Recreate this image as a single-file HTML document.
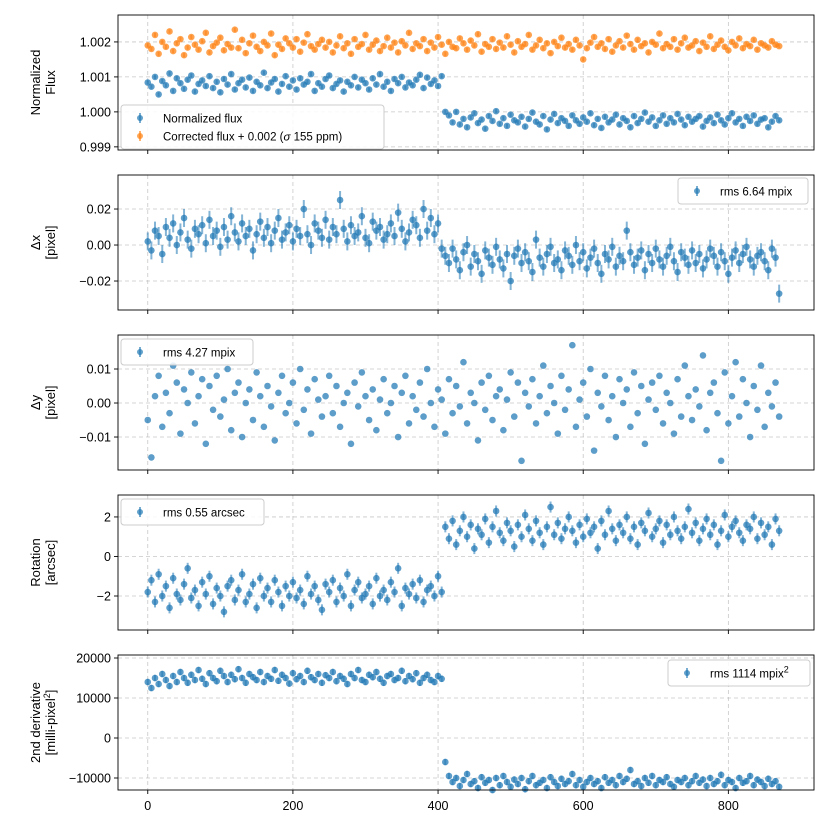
<!DOCTYPE html>
<html><head><meta charset="utf-8">
<style>
html,body{margin:0;padding:0;background:#fff;}
svg{display:block;font-family:"Liberation Sans","DejaVu Sans",sans-serif;}
</style></head>
<body>
<svg id="chart" width="830" height="830" viewBox="0 0 830 830"></svg>
<script>
const frameStep = 5;
const fluxNorm = [840,720,1000,500,880,760,1100,600,960,820,660,920,1040,580,800,900,740,1020,680,860,
560,940,780,1080,640,820,920,700,980,600,860,760,1120,680,840,940,580,800,1020,720,
900,640,960,780,860,1080,600,820,720,940,1040,680,800,900,580,860,760,1000,700,920,
820,640,960,780,1080,720,860,600,940,820,1000,700,840,760,920,1060,680,980,800,900,
740,1020,
0,-100,-300,0,-360,-200,-440,-160,-40,-320,-220,-480,-120,-260,20,-340,-180,-400,-80,-240,
-300,-140,-420,-200,-20,-280,-360,-120,-500,-220,-60,-320,-180,-260,-400,-100,-240,-340,-160,-280,
-40,-380,-200,-460,-140,-300,-220,-80,-360,-180,-260,-440,-120,-320,-200,-20,-280,-160,-400,-240,
-100,-340,-180,-300,-60,-220,-380,-140,-280,-200,-120,-420,-260,-160,-320,-80,-240,-360,-180,-40,
-300,-200,-400,-140,-260,-100,-340,-220,-180,-440,-280,-120,-240];
const fluxCorr = [1900,1800,2200,1660,2000,1860,2300,1740,1960,2080,1620,1840,2140,1920,1780,2020,2260,1700,1880,1980,2120,1760,1940,1840,2350,
1820,2060,1680,1960,2180,1860,1740,2000,1900,2240,1620,1920,1800,2100,1960,1840,2080,1720,1980,2220,1880,1780,1940,2060,1840,
2000,1700,1900,2160,1820,1960,1660,2080,1860,1940,2200,1780,1920,2040,1740,1880,2120,1840,1980,1700,2020,1900,2260,1800,1960,
1880,2080,1740,1980,1840,2140,1920,1660,2000,1860,1820,2100,1960,1780,2040,1900,2220,1720,1940,1860,2080,1800,1980,1840,2160,
1920,1700,2020,1860,1940,2200,1780,1900,2060,1820,1960,1680,2000,1880,2120,1840,1940,1780,2060,1900,1500,1820,1980,2140,1860,
1960,1800,2080,1720,1900,2020,1840,2180,1940,1780,2060,1880,1960,1700,2000,1920,2240,1820,1940,1860,2080,1780,1960,2120,1840,
1900,2020,1740,1980,1860,2160,1800,1920,2040,1860,1760,2000,1900,2100,1820,1940,1880,2060,1780,1960,1900,1840,2020,1920,1880];
const dxVals = [2,-3,8,5,-5,10,4,12,0,7,15,3,-2,9,6,11,1,14,5,8,
-1,10,3,16,7,2,12,5,9,-3,6,13,4,10,1,8,15,3,7,11,
2,9,5,20,6,0,12,8,4,14,3,10,6,25,9,2,11,5,7,16,
4,1,13,8,10,3,6,12,5,18,9,2,7,14,11,4,20,8,15,6,
12,-2,
-6,-10,-2,-8,-14,-4,0,-12,-5,-9,-16,-3,-7,-11,-1,-8,-13,-5,-20,-6,
-2,-10,-4,-9,-15,3,-7,-12,-5,-1,-10,-8,-14,-3,-6,-11,0,-9,-4,-13,
-7,-2,-10,-16,-5,-8,-1,-12,-6,-9,8,-4,-11,-7,-3,-14,-5,-10,-2,-8,
-12,-6,-1,-9,-15,-4,-7,-11,-3,-10,-5,-13,-8,-2,-6,-12,-4,-9,-16,-7,
-3,-10,-5,-1,-8,-12,-6,-4,-9,-14,-2,-7,-27];
const dyVals = [-5,-16,2,8,-7,3,-3,11,6,-9,4,0,9,-6,2,7,-12,5,-2,8,-4,1,10,-8,3,
6,-10,0,4,-5,9,2,-7,5,-1,-11,3,8,-3,0,6,-6,10,-2,4,-9,7,1,-4,2,
8,-3,5,-7,0,3,-12,6,-1,9,2,-5,4,-8,1,7,-3,0,5,-10,3,8,-6,2,-2,
6,-4,10,0,-7,4,1,-9,7,-3,5,-1,12,-6,3,0,-11,6,-2,8,-5,2,4,-8,1,
9,-4,6,-17,3,-1,7,-6,2,11,-3,5,0,-9,8,-2,4,17,-7,1,6,-4,10,-14,3,
-1,8,-5,2,-10,7,0,4,-7,9,-3,5,-12,1,6,-2,8,-6,3,0,-9,7,-4,11,2,
-5,4,-1,14,-8,3,6,-3,-17,9,-6,2,12,-4,7,0,-10,5,-2,11,-7,3,-1,6,-4];
const rotVals = [-180,-120,-230,-90,-200,-150,-260,-110,-190,-220,-140,-60,-210,-170,-250,-130,-190,-100,-240,-160,
-200,-280,-150,-120,-220,-170,-90,-230,-190,-140,-260,-110,-200,-160,-230,-120,-180,-250,-150,-200,
-130,-210,-170,-240,-100,-190,-150,-220,-270,-140,-180,-120,-230,-160,-200,-90,-250,-170,-130,-210,
-190,-150,-240,-110,-200,-170,-220,-130,-180,-60,-250,-160,-190,-140,-210,-120,-230,-170,-150,-200,
-100,-180,
150,90,180,60,130,200,100,160,40,140,110,190,70,150,230,120,80,170,130,50,
160,100,210,140,80,180,120,60,150,250,110,170,90,140,200,130,70,160,100,190,
120,150,40,180,110,230,140,80,160,120,200,90,150,60,170,130,220,100,140,180,
70,160,110,200,130,90,150,240,120,170,80,140,190,110,160,60,130,210,100,150,
180,120,80,160,140,200,90,170,110,150,60,190,130];
const derivVals = [140,125,150,135,160,145,130,155,140,165,150,138,158,145,170,148,135,162,150,142,
168,155,140,158,147,172,150,138,160,152,145,165,140,155,148,170,143,158,150,136,
162,147,155,140,168,152,145,160,138,157,150,165,142,155,148,135,160,150,170,145,
140,158,152,165,148,138,155,160,145,150,168,142,155,147,162,138,150,158,145,140,
155,148,
-60,-95,-110,-100,-120,-105,-90,-115,-108,-125,-98,-112,-105,-130,-100,-118,-95,-110,-122,-104,
-115,-100,-128,-108,-95,-118,-112,-105,-125,-98,-110,-120,-102,-115,-108,-90,-118,-105,-122,-110,
-100,-115,-108,-125,-98,-112,-105,-118,-95,-110,-102,-80,-115,-108,-120,-100,-112,-95,-118,-105,
-110,-98,-115,-122,-105,-110,-100,-118,-108,-95,-112,-104,-120,-100,-115,-108,-92,-118,-105,-110,
-125,-100,-112,-108,-95,-118,-104,-110,-120,-102,-115,-108,-122];
const xTicks = [0,200,400,600,800];
const fluxTicks = ["1.002","1.001","1.000","0.999"];
const dxTicks = ["0.02","0.00","\u22120.02"];
const dyTicks = ["0.01","0.00","\u22120.01"];
const rotTicks = ["2","0","\u22122"];
const derivTicks = ["20000","10000","0","\u221210000"];

const NS="http://www.w3.org/2000/svg";
const svg=document.getElementById('chart');
const X0=118,X1=814, xmin=-41, xmax=918;
const xs=v=>X0+(v-xmin)/(xmax-xmin)*(X1-X0);
function el(tag,attrs,parent){const e=document.createElementNS(NS,tag);for(const k in attrs)e.setAttribute(k,attrs[k]);(parent||svg).appendChild(e);return e;}

function panel(name,top,bot,ymin,ymax,tickVals,tickLabels,ylab1,ylab2,series,legend){
  const g=el('g',{});
  
  
  const ys=v=>bot-(v-ymin)/(ymax-ymin)*(bot-top);
  xTicks.forEach(t=>{const l=el('line',{x1:xs(t),x2:xs(t),y1:top,y2:bot,stroke:'#b0b0b0','stroke-dasharray':'4,3','stroke-width':0.8,opacity:0.7},g);
    
    });
  tickVals.forEach(t=>{const l=el('line',{x1:X0,x2:X1,y1:ys(t),y2:ys(t),stroke:'#b0b0b0','stroke-dasharray':'4,3','stroke-width':0.8,opacity:0.7},g);
    
    });
  series.forEach(s=>{
    const sg=el('g',{},g);
    
    
    s.vals.forEach((v,i)=>{
      const val=s.base+v*s.scale;
      const x=xs(i*frameStep), y=ys(val);
      if(s.err>0){const e=el('line',{x1:x,x2:x,y1:ys(val+s.err),y2:ys(val-s.err),stroke:s.color,'stroke-width':2,opacity:0.55},sg);
        
        }
      const c=el('circle',{cx:x,cy:y,r:3.3,fill:s.color,opacity:0.72},sg);
      
      
    });
  });
  const fr=el('rect',{x:X0,y:top,width:X1-X0,height:bot-top,fill:'none',stroke:'#000','stroke-width':0.9},g);
  
  
  xTicks.forEach(t=>{const l=el('line',{x1:xs(t),x2:xs(t),y1:bot,y2:bot+4,stroke:'#000','stroke-width':0.9},g);
    
    });
  tickVals.forEach((t,i)=>{const l=el('line',{x1:X0-4,x2:X0,y1:ys(t),y2:ys(t),stroke:'#000','stroke-width':0.9},g);
    
    
    const tx=el('text',{x:X0-7,y:ys(t)+4.5,'text-anchor':'end','font-size':12.5,fill:'#000'},g);
    tx.textContent=tickLabels[i];
    
    });
  const cy=(top+bot)/2;
  const yl=el('text',{transform:`translate(40,${cy}) rotate(-90)`,'text-anchor':'middle','font-size':13,fill:'#000'},g);
  
  
  const t1=el('tspan',{x:0,dy:0},yl);t1.textContent=ylab1;
  const t2=el('tspan',{x:0,dy:15},yl);t2.innerHTML=ylab2;
  const lg=el('g',{},g);
  
  
  const rows=legend.entries.length;
  el('rect',{x:legend.x,y:legend.y,width:legend.w,height:8+rows*18,rx:3,fill:'#fff','fill-opacity':0.85,stroke:'#ccc','stroke-width':1},lg);
  legend.entries.forEach((en,i)=>{
    const yy=legend.y+13+i*18;
    const it=el('g',{},lg);
    
    
    el('line',{x1:legend.x+19,x2:legend.x+19,y1:yy-5,y2:yy+5,stroke:en.color,'stroke-width':2,opacity:0.6},it);
    el('circle',{cx:legend.x+19,cy:yy,r:3,fill:en.color,opacity:0.7},it);
    const tx=el('text',{x:legend.x+42,y:yy+4.5,'font-size':11.5,fill:'#000'},it);
    tx.innerHTML=en.label;
  });
}
const C1='#1f77b4',C2='#ff7f0e';
panel('flux',15,150,0.99891,1.00277,[1.002,1.001,1.000,0.999],fluxTicks,'Normalized','Flux',
 [{name:'normalized-flux-series',vals:fluxNorm,base:1,scale:1e-6,err:0.00006,color:C1},
  {name:'corrected-flux-series',vals:fluxCorr,base:1,scale:1e-6,err:0.00006,color:C2}],
 {x:121,y:105,w:263,entries:[{color:C1,label:'Normalized flux'},{color:C2,label:'Corrected flux + 0.002 (<tspan font-style="italic">σ</tspan> 155 ppm)'}]});
panel('dx',175,310,-0.0361,0.0389,[0.02,0,-0.02],dxTicks,'\u0394x','[pixel]',
 [{name:'dx-series',vals:dxVals,base:0,scale:0.001,err:0.005,color:C1}],
 {x:678,y:178,w:130,entries:[{color:C1,label:'rms 6.64 mpix'}]});
panel('dy',335,470,-0.0197,0.02,[0.01,0,-0.01],dyTicks,'\u0394y','[pixel]',
 [{name:'dy-series',vals:dyVals,base:0,scale:0.001,err:0,color:C1}],
 {x:121,y:339,w:132,entries:[{color:C1,label:'rms 4.27 mpix'}]});
panel('rotation',495,630,-3.72,3.11,[2,0,-2],rotTicks,'Rotation','[arcsec]',
 [{name:'rotation-series',vals:rotVals,base:0,scale:0.01,err:0.28,color:C1}],
 {x:121,y:499,w:143,entries:[{color:C1,label:'rms 0.55 arcsec'}]});
panel('deriv',655,790,-13000,20750,[20000,10000,0,-10000],derivTicks,'2nd derivative','[milli-pixel<tspan font-size="9" dy="-5">2</tspan><tspan dy="5">]</tspan>',
 [{name:'second-derivative-series',vals:derivVals,base:0,scale:100,err:800,color:C1}],
 {x:668,y:660,w:142,entries:[{color:C1,label:'rms 1114 mpix<tspan font-size="9" dy="-5">2</tspan>'}]});
xTicks.forEach(t=>{
  const tx=el('text',{x:xs(t),y:810,'text-anchor':'middle','font-size':12.5,fill:'#000'});
  tx.textContent=String(t);
  
  
});
</script>
</body></html>
